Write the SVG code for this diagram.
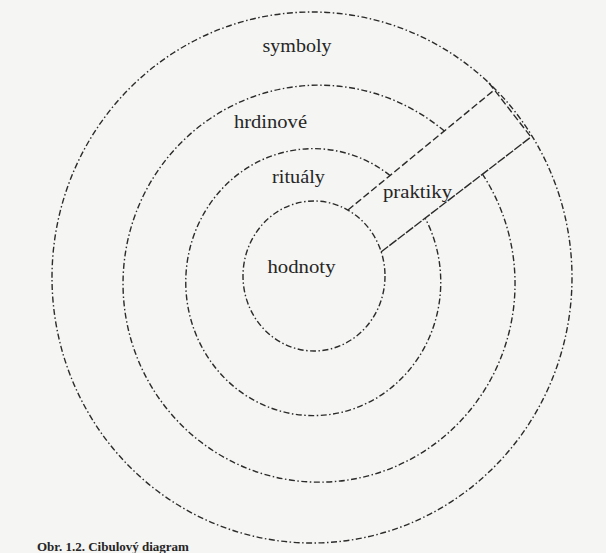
<svg xmlns="http://www.w3.org/2000/svg" width="606" height="553" viewBox="0 0 606 553">
<style>
.ring{fill:none;stroke:#2b2b2b;stroke-width:1.4;stroke-dasharray:6 2.5 1.5 2.5}
.wedge-up{fill:none;stroke:#2b2b2b;stroke-width:1.4;stroke-dasharray:7 3}
.wedge-lo{fill:none;stroke:#2b2b2b;stroke-width:1.4;stroke-dasharray:9 1.5}
.lbl{font-family:'Liberation Serif','DejaVu Serif',serif;font-size:19px;fill:#262626;text-anchor:middle}
.cap{font-family:'Liberation Serif','DejaVu Serif',serif;font-size:13px;font-weight:bold;fill:#262626}
</style>
<rect width="606" height="553" fill="#f5f5f3"/>
<g id="connectors">
<path id="wedge-upper" class="wedge-up" d="M348 210 L493 91"/>
<path id="wedge-lower" class="wedge-lo" d="M381 252 L531 137"/>
<path id="wedge-end" class="wedge-up" d="M489 83 L531 137"/>
</g>
<g id="symboly">
<ellipse class="ring" cx="312" cy="277.5" rx="260" ry="265.5"/>
<text class="lbl" font-family="Liberation Serif, serif" x="297" y="52" textLength="69" lengthAdjust="spacingAndGlyphs">symboly</text>
</g>
<g id="hrdinove">
<path class="ring" d="M444.3 131 A196 198.5 0 1 0 482.6 174.3"/>
<text class="lbl" font-family="Liberation Serif, serif" x="270.5" y="128" textLength="73" lengthAdjust="spacingAndGlyphs">hrdinové</text>
</g>
<g id="ritualy">
<path class="ring" d="M390 175.5 A127.5 133.5 0 1 0 425.2 218.2"/>
<text class="lbl" font-family="Liberation Serif, serif" x="298.5" y="183" textLength="53" lengthAdjust="spacingAndGlyphs">rituály</text>
</g>
<g id="praktiky">
<text class="lbl" font-family="Liberation Serif, serif" x="417.5" y="198" textLength="69" lengthAdjust="spacingAndGlyphs">praktiky</text>
</g>
<g id="hodnoty">
<ellipse class="ring" cx="314" cy="276" rx="71" ry="75"/>
<text class="lbl" font-family="Liberation Serif, serif" x="301.5" y="273" textLength="68" lengthAdjust="spacingAndGlyphs">hodnoty</text>
</g>
<text class="cap" font-family="Liberation Serif, serif" x="37" y="551">Obr. 1.2. Cibulový diagram</text>
</svg>
